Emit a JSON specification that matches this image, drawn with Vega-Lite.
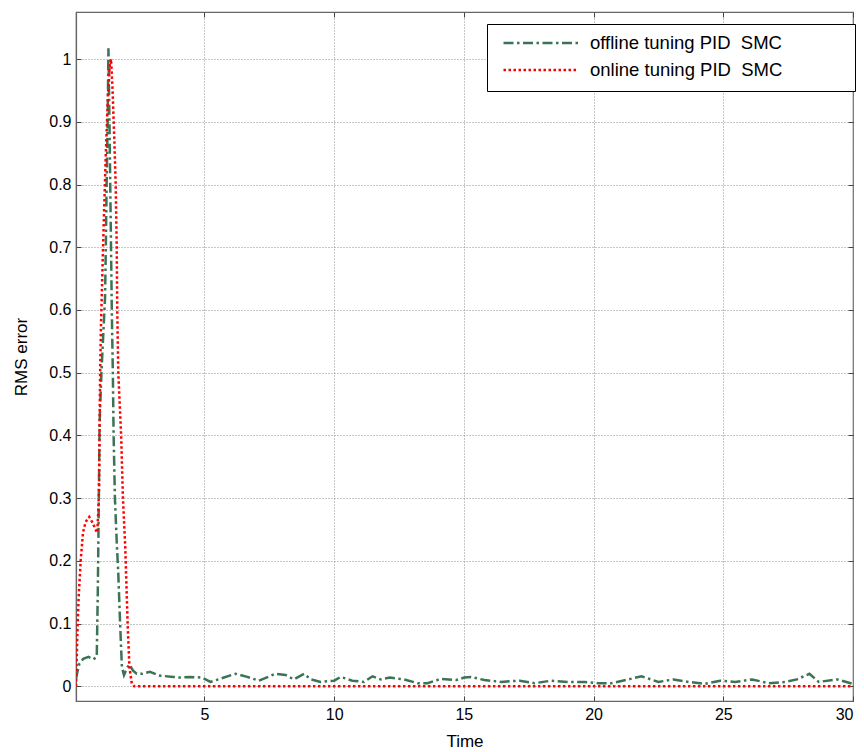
{
  "$schema": "https://vega.github.io/schema/vega-lite/v6.json",
  "width": 777,
  "height": 689,
  "autosize": {"type": "none"},
  "padding": {"left": 76, "top": 12, "right": 11, "bottom": 51},
  "background": "white",
  "config": {
    "font": "Liberation Sans",
    "view": {"stroke": "#666666", "strokeWidth": 1.2},
    "axis": {
      "labelFont": "Liberation Sans",
      "titleFont": "Liberation Sans",
      "labelFontSize": 16,
      "titleFontSize": 17,
      "titleFontWeight": "normal",
      "labelColor": "#000000",
      "titleColor": "#000000",
      "domainColor": "#666666",
      "domainWidth": 1.2,
      "tickColor": "#444444",
      "tickSize": -5,
      "gridColor": "#8c8c8c",
      "gridDash": [1, 2],
      "gridWidth": 1
    }
  },
  "resolve": {"axis": {"x": "independent", "y": "independent"}},
  "data": {
    "values": [
      {"t": 0.05, "v": 0.012, "s": "offline tuning PID  SMC"},
      {"t": 0.1, "v": 0.022, "s": "offline tuning PID  SMC"},
      {"t": 0.18, "v": 0.036, "s": "offline tuning PID  SMC"},
      {"t": 0.33, "v": 0.044, "s": "offline tuning PID  SMC"},
      {"t": 0.53, "v": 0.047, "s": "offline tuning PID  SMC"},
      {"t": 0.72, "v": 0.043, "s": "offline tuning PID  SMC"},
      {"t": 0.85, "v": 0.047, "s": "offline tuning PID  SMC"},
      {"t": 0.89, "v": 0.15, "s": "offline tuning PID  SMC"},
      {"t": 0.93, "v": 0.3, "s": "offline tuning PID  SMC"},
      {"t": 0.96, "v": 0.42, "s": "offline tuning PID  SMC"},
      {"t": 1.03, "v": 0.5, "s": "offline tuning PID  SMC"},
      {"t": 1.1, "v": 0.56, "s": "offline tuning PID  SMC"},
      {"t": 1.17, "v": 0.62, "s": "offline tuning PID  SMC"},
      {"t": 1.2, "v": 0.7, "s": "offline tuning PID  SMC"},
      {"t": 1.23, "v": 0.8, "s": "offline tuning PID  SMC"},
      {"t": 1.27, "v": 0.9, "s": "offline tuning PID  SMC"},
      {"t": 1.3, "v": 1.017, "s": "offline tuning PID  SMC"},
      {"t": 1.34, "v": 0.9, "s": "offline tuning PID  SMC"},
      {"t": 1.37, "v": 0.8, "s": "offline tuning PID  SMC"},
      {"t": 1.4, "v": 0.7, "s": "offline tuning PID  SMC"},
      {"t": 1.43, "v": 0.6, "s": "offline tuning PID  SMC"},
      {"t": 1.47, "v": 0.5, "s": "offline tuning PID  SMC"},
      {"t": 1.5, "v": 0.4, "s": "offline tuning PID  SMC"},
      {"t": 1.55, "v": 0.3, "s": "offline tuning PID  SMC"},
      {"t": 1.62, "v": 0.23, "s": "offline tuning PID  SMC"},
      {"t": 1.68, "v": 0.18, "s": "offline tuning PID  SMC"},
      {"t": 1.75, "v": 0.1, "s": "offline tuning PID  SMC"},
      {"t": 1.82, "v": 0.03, "s": "offline tuning PID  SMC"},
      {"t": 1.9, "v": 0.018, "s": "offline tuning PID  SMC"},
      {"t": 2.0, "v": 0.028, "s": "offline tuning PID  SMC"},
      {"t": 2.11, "v": 0.035, "s": "offline tuning PID  SMC"},
      {"t": 2.25, "v": 0.025, "s": "offline tuning PID  SMC"},
      {"t": 2.39, "v": 0.02, "s": "offline tuning PID  SMC"},
      {"t": 2.6, "v": 0.02, "s": "offline tuning PID  SMC"},
      {"t": 2.9, "v": 0.023, "s": "offline tuning PID  SMC"},
      {"t": 3.29, "v": 0.017, "s": "offline tuning PID  SMC"},
      {"t": 3.8, "v": 0.015, "s": "offline tuning PID  SMC"},
      {"t": 4.05, "v": 0.014, "s": "offline tuning PID  SMC"},
      {"t": 4.45, "v": 0.015, "s": "offline tuning PID  SMC"},
      {"t": 4.9, "v": 0.014, "s": "offline tuning PID  SMC"},
      {"t": 5.23, "v": 0.007, "s": "offline tuning PID  SMC"},
      {"t": 5.6, "v": 0.012, "s": "offline tuning PID  SMC"},
      {"t": 6.2, "v": 0.02, "s": "offline tuning PID  SMC"},
      {"t": 6.65, "v": 0.015, "s": "offline tuning PID  SMC"},
      {"t": 7.1, "v": 0.009, "s": "offline tuning PID  SMC"},
      {"t": 7.74, "v": 0.02, "s": "offline tuning PID  SMC"},
      {"t": 8.13, "v": 0.018, "s": "offline tuning PID  SMC"},
      {"t": 8.45, "v": 0.011, "s": "offline tuning PID  SMC"},
      {"t": 8.84, "v": 0.02, "s": "offline tuning PID  SMC"},
      {"t": 9.1, "v": 0.011, "s": "offline tuning PID  SMC"},
      {"t": 9.48, "v": 0.007, "s": "offline tuning PID  SMC"},
      {"t": 10.0, "v": 0.009, "s": "offline tuning PID  SMC"},
      {"t": 10.25, "v": 0.015, "s": "offline tuning PID  SMC"},
      {"t": 10.7, "v": 0.009, "s": "offline tuning PID  SMC"},
      {"t": 11.15, "v": 0.007, "s": "offline tuning PID  SMC"},
      {"t": 11.48, "v": 0.016, "s": "offline tuning PID  SMC"},
      {"t": 11.8, "v": 0.011, "s": "offline tuning PID  SMC"},
      {"t": 12.15, "v": 0.014, "s": "offline tuning PID  SMC"},
      {"t": 12.7, "v": 0.011, "s": "offline tuning PID  SMC"},
      {"t": 13.22, "v": 0.005, "s": "offline tuning PID  SMC"},
      {"t": 13.6, "v": 0.005, "s": "offline tuning PID  SMC"},
      {"t": 14.12, "v": 0.012, "s": "offline tuning PID  SMC"},
      {"t": 14.7, "v": 0.01, "s": "offline tuning PID  SMC"},
      {"t": 15.02, "v": 0.014, "s": "offline tuning PID  SMC"},
      {"t": 15.28, "v": 0.015, "s": "offline tuning PID  SMC"},
      {"t": 15.79, "v": 0.01, "s": "offline tuning PID  SMC"},
      {"t": 16.44, "v": 0.007, "s": "offline tuning PID  SMC"},
      {"t": 17.15, "v": 0.009, "s": "offline tuning PID  SMC"},
      {"t": 17.73, "v": 0.005, "s": "offline tuning PID  SMC"},
      {"t": 18.37, "v": 0.009, "s": "offline tuning PID  SMC"},
      {"t": 19.02, "v": 0.007, "s": "offline tuning PID  SMC"},
      {"t": 19.66, "v": 0.007, "s": "offline tuning PID  SMC"},
      {"t": 20.18, "v": 0.005, "s": "offline tuning PID  SMC"},
      {"t": 20.69, "v": 0.005, "s": "offline tuning PID  SMC"},
      {"t": 21.34, "v": 0.011, "s": "offline tuning PID  SMC"},
      {"t": 21.85, "v": 0.016, "s": "offline tuning PID  SMC"},
      {"t": 22.5, "v": 0.007, "s": "offline tuning PID  SMC"},
      {"t": 23.08, "v": 0.011, "s": "offline tuning PID  SMC"},
      {"t": 23.66, "v": 0.007, "s": "offline tuning PID  SMC"},
      {"t": 24.3, "v": 0.004, "s": "offline tuning PID  SMC"},
      {"t": 24.88, "v": 0.009, "s": "offline tuning PID  SMC"},
      {"t": 25.46, "v": 0.007, "s": "offline tuning PID  SMC"},
      {"t": 26.11, "v": 0.011, "s": "offline tuning PID  SMC"},
      {"t": 26.75, "v": 0.005, "s": "offline tuning PID  SMC"},
      {"t": 27.39, "v": 0.007, "s": "offline tuning PID  SMC"},
      {"t": 27.84, "v": 0.011, "s": "offline tuning PID  SMC"},
      {"t": 28.32, "v": 0.02, "s": "offline tuning PID  SMC"},
      {"t": 28.68, "v": 0.007, "s": "offline tuning PID  SMC"},
      {"t": 29.39, "v": 0.011, "s": "offline tuning PID  SMC"},
      {"t": 30.0, "v": 0.004, "s": "offline tuning PID  SMC"},
      {"t": 0.05, "v": 0.0, "s": "online tuning PID  SMC"},
      {"t": 0.1, "v": 0.08, "s": "online tuning PID  SMC"},
      {"t": 0.15, "v": 0.14, "s": "online tuning PID  SMC"},
      {"t": 0.23, "v": 0.2, "s": "online tuning PID  SMC"},
      {"t": 0.32, "v": 0.245, "s": "online tuning PID  SMC"},
      {"t": 0.42, "v": 0.262, "s": "online tuning PID  SMC"},
      {"t": 0.56, "v": 0.27, "s": "online tuning PID  SMC"},
      {"t": 0.7, "v": 0.26, "s": "online tuning PID  SMC"},
      {"t": 0.8, "v": 0.25, "s": "online tuning PID  SMC"},
      {"t": 0.87, "v": 0.245, "s": "online tuning PID  SMC"},
      {"t": 0.91, "v": 0.28, "s": "online tuning PID  SMC"},
      {"t": 0.94, "v": 0.32, "s": "online tuning PID  SMC"},
      {"t": 0.96, "v": 0.42, "s": "online tuning PID  SMC"},
      {"t": 0.98, "v": 0.5, "s": "online tuning PID  SMC"},
      {"t": 1.01, "v": 0.57, "s": "online tuning PID  SMC"},
      {"t": 1.06, "v": 0.65, "s": "online tuning PID  SMC"},
      {"t": 1.12, "v": 0.74, "s": "online tuning PID  SMC"},
      {"t": 1.2, "v": 0.85, "s": "online tuning PID  SMC"},
      {"t": 1.28, "v": 0.94, "s": "online tuning PID  SMC"},
      {"t": 1.35, "v": 0.99, "s": "online tuning PID  SMC"},
      {"t": 1.4, "v": 1.0, "s": "online tuning PID  SMC"},
      {"t": 1.46, "v": 0.95, "s": "online tuning PID  SMC"},
      {"t": 1.52, "v": 0.88, "s": "online tuning PID  SMC"},
      {"t": 1.58, "v": 0.8, "s": "online tuning PID  SMC"},
      {"t": 1.62, "v": 0.7, "s": "online tuning PID  SMC"},
      {"t": 1.64, "v": 0.6, "s": "online tuning PID  SMC"},
      {"t": 1.68, "v": 0.5, "s": "online tuning PID  SMC"},
      {"t": 1.79, "v": 0.4, "s": "online tuning PID  SMC"},
      {"t": 1.86, "v": 0.3, "s": "online tuning PID  SMC"},
      {"t": 1.95, "v": 0.22, "s": "online tuning PID  SMC"},
      {"t": 2.04, "v": 0.1, "s": "online tuning PID  SMC"},
      {"t": 2.11, "v": 0.03, "s": "online tuning PID  SMC"},
      {"t": 2.2, "v": 0.005, "s": "online tuning PID  SMC"},
      {"t": 2.29, "v": 0.0, "s": "online tuning PID  SMC"},
      {"t": 30.0, "v": 0.0, "s": "online tuning PID  SMC"}
    ]
  },
  "layer": [
    {
      "mark": {"type": "line", "strokeWidth": 2.5, "strokeCap": "butt", "clip": true},
      "encoding": {
        "x": {
          "field": "t", "type": "quantitative",
          "scale": {"domain": [0.05, 30], "nice": false, "zero": false},
          "axis": {"values": [5, 10, 15, 20, 25, 30], "title": "Time", "labelPadding": 10, "titlePadding": 11, "grid": true}
        },
        "y": {
          "field": "v", "type": "quantitative",
          "scale": {"domain": [-0.0234, 1.075], "nice": false, "zero": false},
          "axis": {"values": [0, 0.1, 0.2, 0.3, 0.4, 0.5, 0.6, 0.7, 0.8, 0.9, 1], "format": ".1~f", "title": "RMS error", "labelPadding": 10, "titlePadding": 18, "grid": true}
        },
        "color": {
          "field": "s", "type": "nominal",
          "scale": {"domain": ["offline tuning PID  SMC", "online tuning PID  SMC"], "range": ["#3a7356", "#ff0000"]},
          "legend": {
            "orient": "none", "legendX": 411, "legendY": 12, "title": null,
            "padding": 11, "strokeColor": "#000000", "fillColor": "#ffffff",
            "symbolType": "stroke", "symbolSize": 5625, "symbolStrokeWidth": 2.5,
            "clipHeight": 16,
            "symbolOffset": 4, "labelOffset": 10, "labelFontSize": 18.5, "labelFont": "Liberation Sans",
            "labelColor": "#000000", "rowPadding": 8, "labelLimit": 500,
            "labelExpr": "replace(datum.label, 'PID  SMC', 'PID\u00a0 SMC') + '\u00a0\u00a0\u00a0\u00a0\u00a0\u00a0\u00a0\u00a0\u00a0\u00a0\u00a0\u00a0\u200b'"
          }
        },
        "strokeDash": {
          "field": "s", "type": "nominal",
          "scale": {"domain": ["offline tuning PID  SMC", "online tuning PID  SMC"], "range": [[10, 3.5, 2.5, 3.5], [2.5, 2.5]]},
          "legend": {
            "orient": "none", "legendX": 411, "legendY": 12, "title": null,
            "padding": 11, "strokeColor": "#000000", "fillColor": "#ffffff",
            "symbolType": "stroke", "symbolSize": 5625, "symbolStrokeWidth": 2.5,
            "clipHeight": 16,
            "symbolOffset": 4, "labelOffset": 10, "labelFontSize": 18.5, "labelFont": "Liberation Sans",
            "labelColor": "#000000", "rowPadding": 8, "labelLimit": 500,
            "labelExpr": "replace(datum.label, 'PID  SMC', 'PID\u00a0 SMC') + '\u00a0\u00a0\u00a0\u00a0\u00a0\u00a0\u00a0\u00a0\u00a0\u00a0\u00a0\u00a0\u200b'"
          }
        }
      }
    },
    {
      "mark": {"type": "line", "opacity": 0},
      "encoding": {
        "x": {"field": "t", "type": "quantitative", "axis": {"orient": "top", "values": [5, 10, 15, 20, 25, 30], "labels": false, "title": null, "grid": false, "domain": false}},
        "y": {"field": "v", "type": "quantitative", "axis": {"orient": "right", "values": [0, 0.1, 0.2, 0.3, 0.4, 0.5, 0.6, 0.7, 0.8, 0.9, 1], "labels": false, "title": null, "grid": false, "domain": false}}
      }
    }
  ]
}
